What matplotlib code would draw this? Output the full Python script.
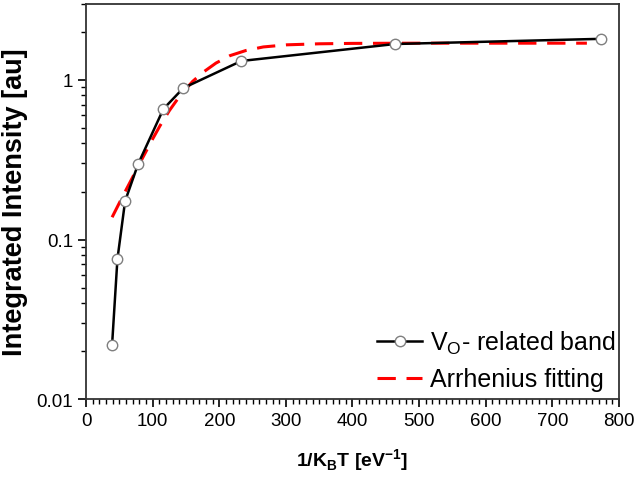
import matplotlib.pyplot as plt
from matplotlib.ticker import MultipleLocator, LogLocator, NullFormatter, FixedLocator, FixedFormatter

plt.rcParams['font.family'] = ['Liberation Sans', 'DejaVu Sans']
plt.rcParams['mathtext.fontset'] = 'custom'
plt.rcParams['mathtext.rm'] = 'Liberation Sans'
plt.rcParams['mathtext.bf'] = 'Liberation Sans:bold'

# measured band intensity vs 1/kT
inv_kt = [39, 47, 58.5, 78, 116, 146, 233, 464, 773]
intensity = [0.022, 0.0755, 0.174, 0.297, 0.658, 0.89, 1.315, 1.68, 1.81]

# Arrhenius fit curve
fit_x = [39, 50, 60, 71, 85, 100, 111, 125, 141, 160, 176, 195, 216, 240,
         266, 301, 350, 400, 500, 600, 700, 752]
fit_y = [0.138, 0.170, 0.205, 0.251, 0.326, 0.428, 0.517, 0.643, 0.798, 0.98, 1.12,
         1.276, 1.42, 1.53, 1.61, 1.66, 1.685, 1.695, 1.70, 1.70, 1.70, 1.70]

y_ticks = [0.01, 0.1, 1]
y_ticklabels = ['0.01', '0.1', '1']

fig = plt.figure(figsize=(6.38, 4.81), dpi=100)
ax = fig.add_axes([0.135, 0.168, 0.835, 0.822])

ax.plot(inv_kt, intensity, color='black', lw=1.8, marker='o', ms=7.5,
        mfc='white', mec='#7f7f7f', mew=1.0, label=r'V$_{\mathrm{O}}$- related band', zorder=3)
ax.plot(fit_x, fit_y, color='red', lw=2.2, ls=(0, (6, 3.5)),
        label='Arrhenius fitting', zorder=2)

ax.set_yscale('log')
ax.set_xlim(0, 800)
ax.set_ylim(0.01, 3)

ax.xaxis.set_major_locator(MultipleLocator(100))
ax.xaxis.set_minor_locator(MultipleLocator(10))
ax.yaxis.set_major_locator(FixedLocator(y_ticks))
ax.yaxis.set_major_formatter(FixedFormatter(y_ticklabels))
ax.yaxis.set_minor_locator(LogLocator(base=10, subs=range(2, 10)))
ax.yaxis.set_minor_formatter(NullFormatter())

ax.tick_params(which='major', direction='out', length=6, width=1.2, labelsize=13.5, colors='black')
ax.tick_params(which='minor', direction='out', length=3.5, width=1.0)
ax.tick_params(top=False, right=False)
for s in ax.spines.values():
    s.set_linewidth(1.3)
    s.set_color('#333333')

ax.set_xlabel(r'1/K$_{\mathbf{B}}$T [eV$^{\mathbf{-1}}$]', fontsize=14, fontweight='bold', labelpad=12)
ax.set_ylabel('Integrated Intensity [au]', fontsize=19.5, fontweight='bold', labelpad=6)

ax.legend(loc='lower right', bbox_to_anchor=(1.02, -0.015), frameon=False, fontsize=18,
          handlelength=1.8, handletextpad=0.3, borderaxespad=0.15, labelspacing=0.45)

fig.savefig('out.png', dpi=100)
